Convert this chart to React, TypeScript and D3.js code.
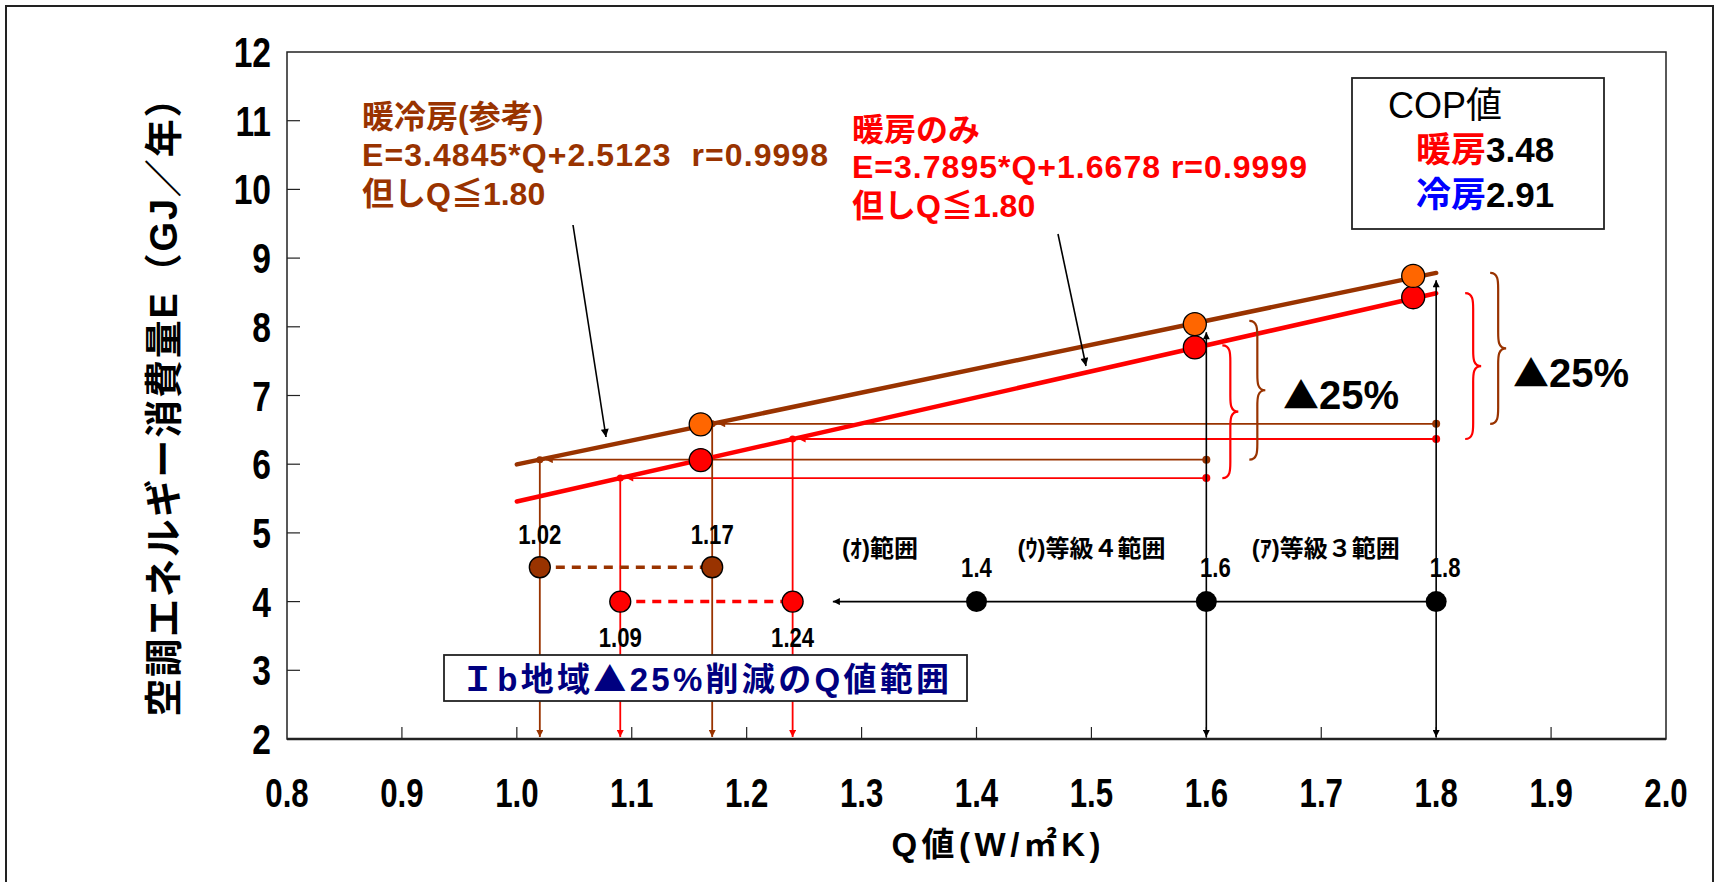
import React from 'react';
import * as d3 from 'd3';

const W = 1721;
const H = 882;

// axes
const xTicks = [0.8, 0.9, 1.0, 1.1, 1.2, 1.3, 1.4, 1.5, 1.6, 1.7, 1.8, 1.9, 2.0];
const yTicks = [2, 3, 4, 5, 6, 7, 8, 9, 10, 11, 12];

// regression lines E = a*Q + b, valid for Q in fitRange
const fitHeatCool = { a: 3.4845, b: 2.5123 };
const fitHeat = { a: 3.7895, b: 1.6678 };
const fitRange = [1.0, 1.8];

// observed points
const obsQ = [1.16, 1.59, 1.78];
const obsHeatCool = [6.58, 8.04, 8.74];
const obsHeat = [6.06, 7.7, 8.43];

// 25% reduction from the grade limits
const baseQ = [1.6, 1.8];
const reduction = 0.25;
const targetHeatCool = [1.02, 1.17];
const targetHeat = [1.09, 1.24];
const rowHeatCool = 4.5;
const rowHeat = 4.0;

// grade limits on the Q scale
const gradeQ = [1.4, 1.6, 1.8];
const gradeRow = 4.0;
const gradeArrowEnd = 1.275;
const rangeLabels = ['(ｵ)範囲', '(ｳ)等級４範囲', '(ｱ)等級３範囲'];
const rangeLabelQ = [1.316, 1.5, 1.704];
const rangeLabelE = 4.65;

const BROWN = '#993300';
const RED = '#FF0000';
const ORANGE = '#FF6600';
const NAVY = '#000080';

const JP = "'Liberation Sans', 'Noto Sans CJK JP', sans-serif";
const NUM = "'Liberation Sans', Arial, sans-serif";
const TRI = "'Noto Sans CJK JP', sans-serif";

const M = { left: 287, right: 1666, top: 52, bottom: 739 };

const x = d3.scaleLinear().domain([0.8, 2.0]).range([M.left, M.right]);
const y = d3.scaleLinear().domain([2, 12]).range([M.bottom, M.top]);

const fit = (f: { a: number; b: number }, q: number) => f.a * q + f.b;

// curly brace "}" with stem at sx, from y1 to y2
const brace = (sx: number, y1: number, y2: number, w = 8) => {
  const ym = (y1 + y2) / 2;
  return `M${sx - w},${y1} C${sx},${y1} ${sx},${y1 + w} ${sx},${y1 + w * 2} L${sx},${ym - w * 2} C${sx},${ym - w} ${sx},${ym} ${sx + w},${ym} C${sx},${ym} ${sx},${ym + w} ${sx},${ym + w * 2} L${sx},${y2 - w * 2} C${sx},${y2 - w} ${sx},${y2} ${sx - w},${y2}`;
};

const Marker = ({ id, color, w = 9, h = 7 }: { id: string; color: string; w?: number; h?: number }) => (
  <marker id={id} viewBox="0 0 10 10" refX={10} refY={5} markerWidth={w} markerHeight={h}
    markerUnits="userSpaceOnUse" orient="auto">
    <path d="M0,0 L10,5 L0,10 z" fill={color} />
  </marker>
);

// condensed bold numerals
const Num = ({ x: tx, y: ty, size, anchor = 'middle', sx = 0.8, children }:
  { x: number; y: number; size: number; anchor?: string; sx?: number; children: React.ReactNode }) => (
  <text transform={`translate(${tx},${ty}) scale(${sx},1)`} textAnchor={anchor as any}
    fontFamily={NUM} fontWeight="bold" fontSize={size}>{children}</text>
);

export default function App() {
  const lineHC = d3.line<number>().x(q => x(q)).y(q => y(fit(fitHeatCool, q)))(fitRange) as string;
  const lineH = d3.line<number>().x(q => x(q)).y(q => y(fit(fitHeat, q)))(fitRange) as string;

  // reduction guides: from base Q at 75% level, left to the fit line, then down to the axis
  const guides = baseQ.map((bq, i) => ({
    bq,
    hcTop: fit(fitHeatCool, bq), hcLow: fit(fitHeatCool, bq) * (1 - reduction), hcQ: targetHeatCool[i],
    hTop: fit(fitHeat, bq), hLow: fit(fitHeat, bq) * (1 - reduction), hQ: targetHeat[i],
  }));

  const braceOffsets = [
    { red: 24, brown: 51 },
    { red: 37, brown: 62 },
  ];
  const pctLabelPos = [
    { x: 1283, e: 6.8 },
    { x: 1513, e: 7.12 },
  ];

  return (
    <svg width={W} height={H} style={{ position: 'absolute', left: 0, top: 0, background: '#fff' }}>
      <defs>
        <Marker id="arBrown" color={BROWN} w={8} h={7} />
        <Marker id="arRed" color={RED} w={8} h={7} />
        <Marker id="arBlack" color="#000" w={9} h={7} />
        <Marker id="arPtr" color="#000" w={11} h={8} />
      </defs>

      {/* outer frame */}
      <rect x={6} y={6} width={1707} height={900} fill="#fff" stroke="#222" strokeWidth={2} />

      {/* plot frame */}
      <rect x={M.left} y={M.top} width={M.right - M.left} height={M.bottom - M.top}
        fill="#fff" stroke="#222" strokeWidth={1.5} />
      <line x1={M.left} x2={M.right} y1={M.bottom} y2={M.bottom} stroke="#222" strokeWidth={2.5} />

      {/* ticks */}
      {yTicks.slice(1, -1).map(t => (
        <line key={`yt${t}`} x1={M.left} x2={M.left + 13} y1={y(t)} y2={y(t)} stroke="#222" strokeWidth={1.2} />
      ))}
      {xTicks.slice(1, -1).map(t => (
        <line key={`xt${t}`} x1={x(t)} x2={x(t)} y1={M.bottom} y2={M.bottom - 12} stroke="#222" strokeWidth={1.2} />
      ))}
      {yTicks.map(t => (
        <Num key={`yl${t}`} x={271} y={y(t) + 15} size={42} anchor="end" sx={0.8}>{t}</Num>
      ))}
      {xTicks.map(t => (
        <Num key={`xl${t}`} x={x(t)} y={807} size={40} sx={0.78}>{t.toFixed(1)}</Num>
      ))}

      {/* axis titles */}
      <text transform="translate(164,398) rotate(-90)" textAnchor="middle" dominantBaseline="central"
        fontFamily={JP} fontWeight="bold" fontSize={38} textLength={637} lengthAdjust="spacing">
        空調エネルギー消費量E（GJ／年）
      </text>
      <text x={996} y={856} textAnchor="middle" fontFamily={JP} fontWeight="bold" fontSize={33}
        textLength={209} lengthAdjust="spacing">
        Q値(W/㎡K)
      </text>

      {/* horizontal 75% guides with start dots */}
      {guides.map((g, i) => (
        <g key={`hg${i}`}>
          <line x1={x(g.bq)} x2={x(g.hcQ) + 6} y1={y(g.hcLow)} y2={y(g.hcLow)} stroke={BROWN} strokeWidth={1.8} markerEnd="url(#arBrown)" />
          <line x1={x(g.bq)} x2={x(g.hQ) + 6} y1={y(g.hLow)} y2={y(g.hLow)} stroke={RED} strokeWidth={1.8} markerEnd="url(#arRed)" />
          <circle cx={x(g.bq)} cy={y(g.hcLow)} r={4} fill={BROWN} />
          <circle cx={x(g.bq)} cy={y(g.hLow)} r={4} fill={RED} />
        </g>
      ))}

      {/* vertical drops to the Q axis */}
      {guides.map((g, i) => (
        <g key={`vg${i}`}>
          <line x1={x(g.hcQ)} x2={x(g.hcQ)} y1={y(g.hcLow)} y2={M.bottom - 2} stroke={BROWN} strokeWidth={1.8} markerEnd="url(#arBrown)" />
          <line x1={x(g.hQ)} x2={x(g.hQ)} y1={y(g.hLow)} y2={M.bottom - 2} stroke={RED} strokeWidth={1.8} markerEnd="url(#arRed)" />
          <circle cx={x(g.hcQ)} cy={y(g.hcLow)} r={3.5} fill={BROWN} />
          <circle cx={x(g.hQ)} cy={y(g.hLow)} r={3.5} fill={RED} />
        </g>
      ))}

      {/* fit lines */}
      <path d={lineHC} stroke={BROWN} strokeWidth={4.5} fill="none" strokeLinecap="round" />
      <path d={lineH} stroke={RED} strokeWidth={4.5} fill="none" strokeLinecap="round" />

      {/* braces and ▲25% */}
      {guides.map((g, i) => (
        <g key={`br${i}`}>
          <path d={brace(x(g.bq) + braceOffsets[i].red, y(g.hTop), y(g.hLow))} stroke={RED} strokeWidth={2.2} fill="none" />
          <path d={brace(x(g.bq) + braceOffsets[i].brown, y(g.hcTop), y(g.hcLow))} stroke={BROWN} strokeWidth={2.2} fill="none" />
          <text x={pctLabelPos[i].x} y={y(pctLabelPos[i].e)} fontFamily={JP} fontWeight="bold" fontSize={40}>
            <tspan fontFamily={TRI} fontSize={36}>▲</tspan>25%
          </text>
        </g>
      ))}

      {/* grade limits row */}
      <line x1={x(gradeQ[gradeQ.length - 1])} x2={x(gradeArrowEnd)} y1={y(gradeRow)} y2={y(gradeRow)}
        stroke="#000" strokeWidth={1.6} markerEnd="url(#arBlack)" />
      {gradeQ.slice(1).map(q => (
        <line key={`gv${q}`} x1={x(q)} x2={x(q)} y1={y(gradeRow)} y2={M.bottom - 2} stroke="#000" strokeWidth={1.6} markerEnd="url(#arBlack)" />
      ))}

      {/* reduced-Q rows */}
      <line x1={x(targetHeatCool[0])} x2={x(targetHeatCool[1])} y1={y(rowHeatCool)} y2={y(rowHeatCool)}
        stroke={BROWN} strokeWidth={3.5} strokeDasharray="9 7" />
      <line x1={x(targetHeat[0])} x2={x(targetHeat[1])} y1={y(rowHeat)} y2={y(rowHeat)}
        stroke={RED} strokeWidth={3.5} strokeDasharray="9 7" />

      {targetHeatCool.map(q => (
        <g key={`thc${q}`}>
          <circle cx={x(q)} cy={y(rowHeatCool)} r={10.5} fill={BROWN} stroke="#000" strokeWidth={1.3} />
          <Num x={x(q)} y={y(rowHeatCool) - 23} size={27} sx={0.82}>{q.toFixed(2)}</Num>
        </g>
      ))}
      {targetHeat.map(q => (
        <g key={`th${q}`}>
          <circle cx={x(q)} cy={y(rowHeat)} r={10.5} fill={RED} stroke="#000" strokeWidth={1.3} />
          <Num x={x(q)} y={y(rowHeat) + 45} size={27} sx={0.82}>{q.toFixed(2)}</Num>
        </g>
      ))}
      {gradeQ.map((q, i) => (
        <g key={`gq${q}`}>
          <circle cx={x(q)} cy={y(gradeRow)} r={10.5} fill="#000" />
          <Num x={x(q) + (i === 0 ? 0 : 9)} y={y(gradeRow) - 25} size={27} sx={0.82}>{q.toFixed(1)}</Num>
        </g>
      ))}
      {rangeLabels.map((t, i) => (
        <text key={t} x={x(rangeLabelQ[i])} y={y(rangeLabelE)} textAnchor="middle" fontFamily={JP} fontWeight="bold" fontSize={24}>{t}</text>
      ))}

      {/* observed points */}
      {obsQ.map((q, i) => (
        <g key={`ob${q}`}>
          <circle cx={x(q)} cy={y(obsHeat[i])} r={11.5} fill={RED} stroke="#000" strokeWidth={1.3} />
          <circle cx={x(q)} cy={y(obsHeatCool[i])} r={11.5} fill={ORANGE} stroke="#000" strokeWidth={1.3} />
        </g>
      ))}

      {/* upward arrows from the grade points toward the heating line */}
      {gradeQ.slice(1).map(q => (
        <line key={`gu${q}`} x1={x(q)} x2={x(q)} y1={y(gradeRow)} y2={y(fit(fitHeat, q)) - 13}
          stroke="#000" strokeWidth={1.6} markerEnd="url(#arBlack)" />
      ))}

      {/* annotation: heating + cooling */}
      <g fontFamily={JP} fontWeight="bold" fontSize={32} fill={BROWN}>
        <text x={362} y={128}>暖冷房(参考)</text>
        <text x={362} y={166} style={{ whiteSpace: 'pre' }} textLength={466} lengthAdjust="spacing">E=3.4845*Q+2.5123  r=0.9998</text>
        <text x={362} y={205}>但しQ≦1.80</text>
      </g>
      <line x1={573} y1={225} x2={606} y2={437} stroke="#000" strokeWidth={1.6} markerEnd="url(#arPtr)" />

      {/* annotation: heating only */}
      <g fontFamily={JP} fontWeight="bold" fontSize={32} fill={RED}>
        <text x={852} y={141}>暖房のみ</text>
        <text x={852} y={178} textLength={455} lengthAdjust="spacing">E=3.7895*Q+1.6678 r=0.9999</text>
        <text x={852} y={217}>但しQ≦1.80</text>
      </g>
      <line x1={1058} y1={234} x2={1086} y2={366} stroke="#000" strokeWidth={1.6} markerEnd="url(#arPtr)" />

      {/* COP box */}
      <rect x={1352} y={78} width={252} height={151} fill="#fff" stroke="#222" strokeWidth={1.8} />
      <text x={1388} y={118} fontFamily={JP} fontSize={36}>COP値</text>
      <text x={1416} y={162} fontFamily={JP} fontWeight="bold" fontSize={35}>
        <tspan fill={RED}>暖房</tspan><tspan fill="#000">3.48</tspan>
      </text>
      <text x={1416} y={207} fontFamily={JP} fontWeight="bold" fontSize={35}>
        <tspan fill="#0000FF">冷房</tspan><tspan fill="#000">2.91</tspan>
      </text>

      {/* range note */}
      <rect x={444} y={655} width={523} height={46} fill="#fff" stroke="#222" strokeWidth={1.8} />
      <text x={705} y={691} textAnchor="middle" fontFamily={JP} fontWeight="bold" fontSize={33} fill={NAVY}
        textLength={488} lengthAdjust="spacing">Ｉb地域<tspan fontFamily={TRI}>▲</tspan>25%削減のQ値範囲</text>
    </svg>
  );
}
